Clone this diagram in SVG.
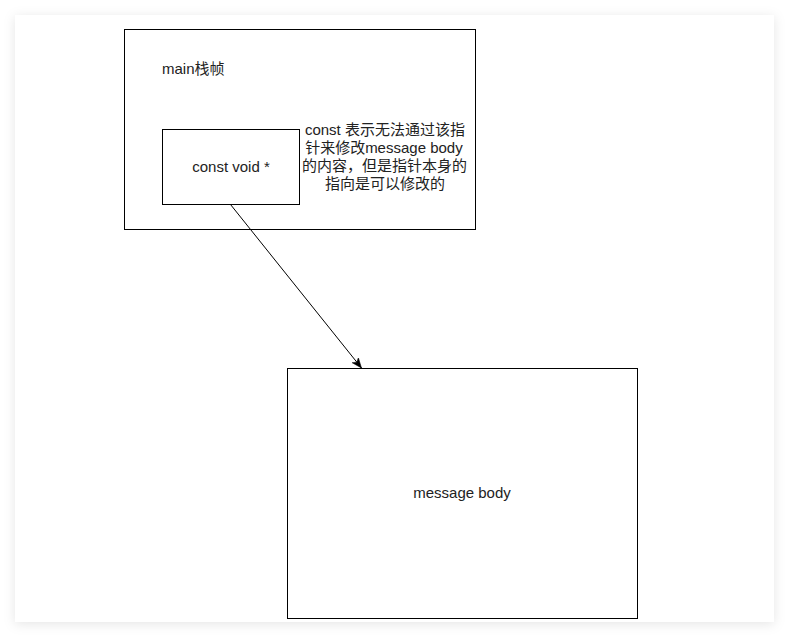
<svg xmlns="http://www.w3.org/2000/svg" width="789" height="638" viewBox="0 0 789 638">
  <style>
    .box { fill: #ffffff; stroke: #000000; stroke-width: 1; }
    .t { font-family: "Liberation Sans", "Noto Sans CJK SC", sans-serif; font-size: 15px; fill: #222222; }
    .conn { stroke: #000000; stroke-width: 1; fill: none; }
  </style>
  <defs>
    <filter id="shadow" x="-10%" y="-10%" width="120%" height="120%">
      <feDropShadow dx="0" dy="2" stdDeviation="6" flood-color="#000000" flood-opacity="0.10"/>
    </filter>
    <marker id="arrow" markerUnits="userSpaceOnUse" markerWidth="11" markerHeight="9" refX="10" refY="4.5" orient="auto" viewBox="0 0 11 9">
      <path d="M0,0.5 L10,4.5 L0,8.5 L2.5,4.5 Z" fill="#000000" stroke="#000000" stroke-width="0.5"/>
    </marker>
  </defs>
  <rect width="789" height="638" fill="#ffffff"/>
  <rect id="card" x="15" y="15" width="759" height="607" fill="#ffffff" filter="url(#shadow)"/>

  <g id="main-frame">
    <rect class="box" x="124.5" y="29.5" width="351" height="200"/>
    <text class="t" x="162" y="74">main栈帧</text>
  </g>

  <g id="pointer">
    <rect class="box" x="162.5" y="129.5" width="137" height="75"/>
    <text class="t" x="231" y="172" text-anchor="middle">const void *</text>
  </g>

  <g id="note">
    <text class="t" text-anchor="middle">
      <tspan x="387" y="135">const 表示无法通过该指</tspan>
      <tspan x="386" y="153">针来修改message body</tspan>
      <tspan x="386.5" y="171">的内容，但是指针本身的</tspan>
      <tspan x="385" y="189">指向是可以修改的</tspan>
    </text>
  </g>

  <g id="message-body">
    <rect class="box" x="287.5" y="368.5" width="350" height="250"/>
    <text class="t" x="462" y="498" text-anchor="middle">message body</text>
  </g>

  <g id="connectors">
    <line class="conn" x1="230.5" y1="204.5" x2="361.5" y2="368" marker-end="url(#arrow)"/>
  </g>
</svg>
